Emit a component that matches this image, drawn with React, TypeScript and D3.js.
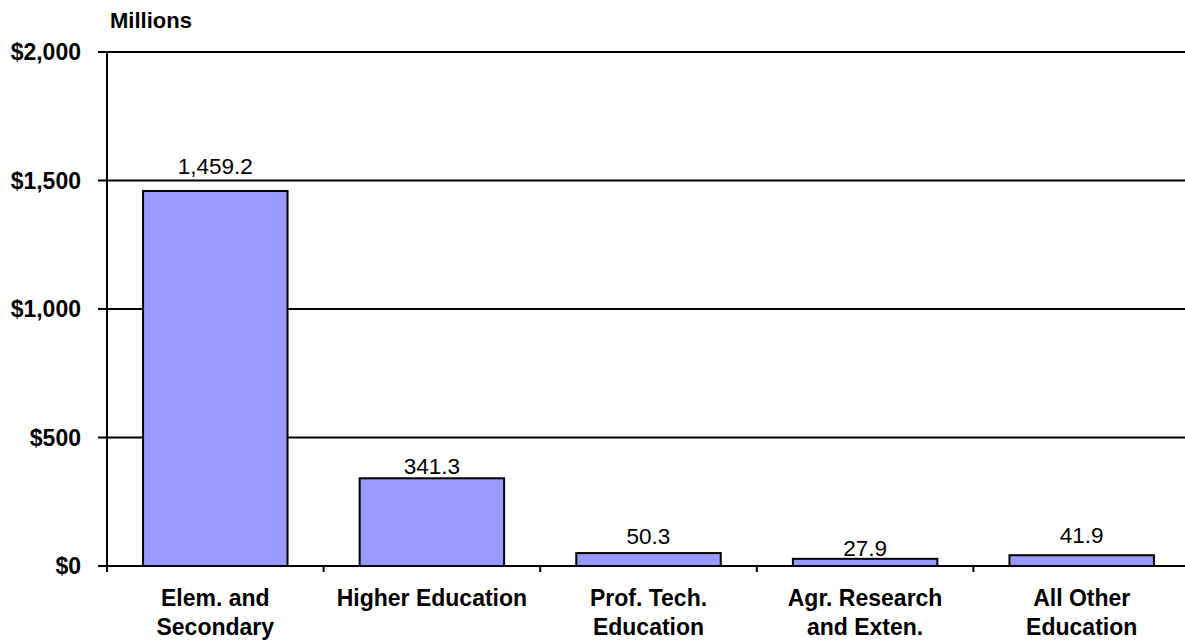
import React from "react";
import * as d3 from "d3";

const categories: string[][] = [
  ["Elem. and", "Secondary"],
  ["Higher Education"],
  ["Prof. Tech.", "Education"],
  ["Agr. Research", "and Exten."],
  ["All Other", "Education"],
];
const values: number[] = [1459.2, 341.3, 50.3, 27.9, 41.9];
const yTicks: number[] = [0, 500, 1000, 1500, 2000];

// label gap above bar (px), matching the reference's label placement
const labelGap: number[] = [17, 4, 9, 3, 12];

const W = 1185;
const H = 640;
const left = 107;
const right = 1190;
const top = 52;
const bottom = 566;
const FONT = "'Liberation Sans', Arial, sans-serif";

export default function App() {
  const x = d3
    .scaleBand<number>()
    .domain(values.map((_, i) => i))
    .range([left, right])
    .paddingInner(0.333)
    .paddingOuter(0.1665);
  const band = (right - left) / values.length;
  const y = d3.scaleLinear().domain([0, 2000]).range([bottom, top]);
  const fmt = d3.format(",.1f");
  const tickFmt = (v: number) => "$" + d3.format(",")(v);

  return (
    <svg
      width={W}
      height={H}
      style={{ position: "absolute", left: 0, top: 0, background: "#fff" }}
      fontFamily={FONT}
    >
      <rect x={0} y={0} width={W} height={H} fill="#fff" />
      <text x={110} y={28} fontSize={22} fontWeight="bold" fill="#000">
        Millions
      </text>
      {yTicks.map((t) => (
        <line
          key={"g" + t}
          x1={98}
          x2={W}
          y1={y(t)}
          y2={y(t)}
          stroke="#000"
          strokeWidth={2}
        />
      ))}
      {yTicks.map((t) => (
        <text
          key={"yt" + t}
          x={81}
          y={y(t)}
          dy="0.36em"
          textAnchor="end"
          fontSize={23}
          fontWeight="bold"
          fill="#000"
        >
          {tickFmt(t)}
        </text>
      ))}
      <line x1={left} x2={left} y1={top} y2={bottom} stroke="#000" strokeWidth={2} />
      {d3.range(values.length + 1).map((i) => (
        <line
          key={"xt" + i}
          x1={left + i * band}
          x2={left + i * band}
          y1={bottom}
          y2={bottom + 6}
          stroke="#000"
          strokeWidth={2}
        />
      ))}
      {values.map((v, i) => (
        <rect
          key={"b" + i}
          x={x(i)!}
          y={y(v)}
          width={x.bandwidth()}
          height={bottom - y(v)}
          fill="#9999FF"
          stroke="#000"
          strokeWidth={2}
        />
      ))}
      {values.map((v, i) => (
        <text
          key={"l" + i}
          x={x(i)! + x.bandwidth() / 2}
          y={y(v) - labelGap[i]}
          textAnchor="middle"
          fontSize={22.5}
          fill="#000"
        >
          {fmt(v)}
        </text>
      ))}
      {categories.map((lines, i) => (
        <text
          key={"c" + i}
          x={x(i)! + x.bandwidth() / 2}
          textAnchor="middle"
          fontSize={23}
          fontWeight="bold"
          fill="#000"
        >
          {lines.map((ln, j) => (
            <tspan key={j} x={x(i)! + x.bandwidth() / 2} y={606 + j * 29}>
              {ln}
            </tspan>
          ))}
        </text>
      ))}
    </svg>
  );
}
